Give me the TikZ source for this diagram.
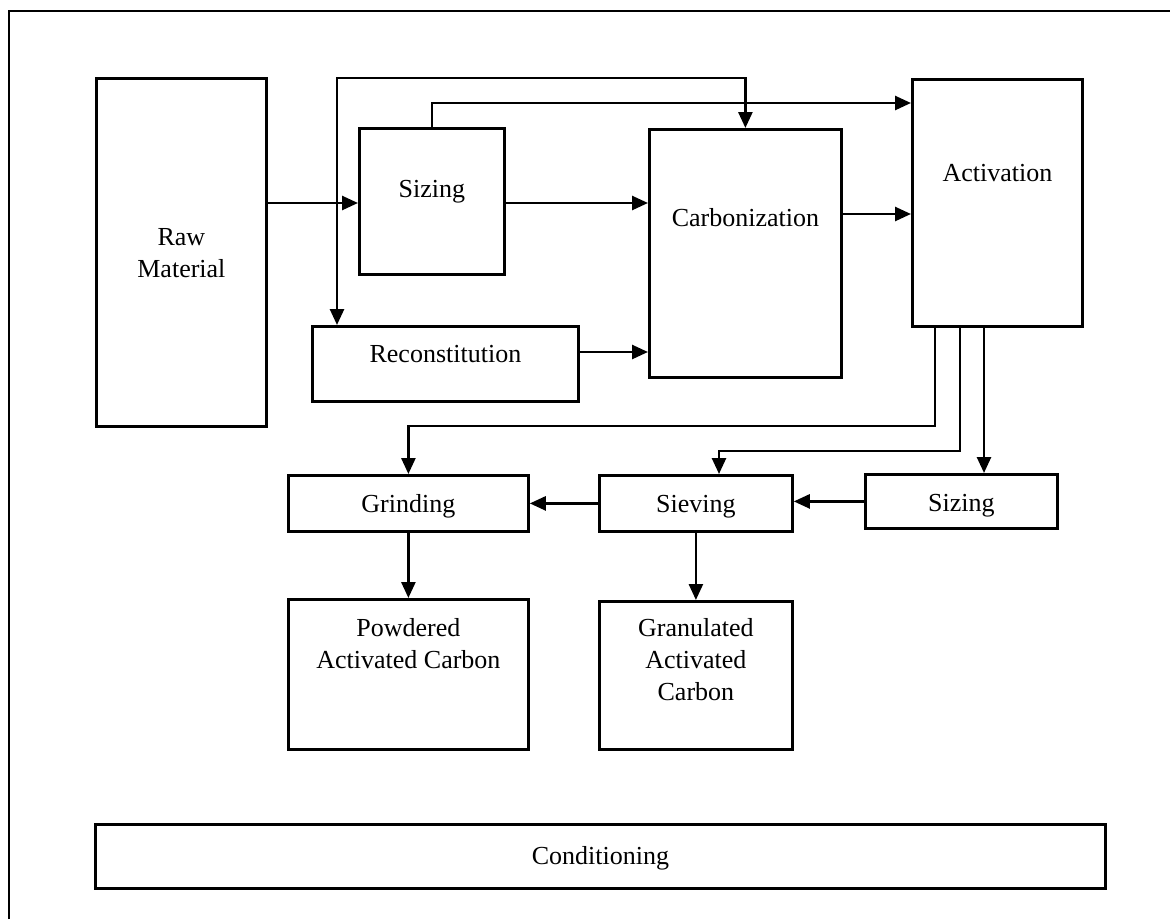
\documentclass[tikz,border=0pt]{standalone}
\usepackage{fontspec}
\setmainfont{Liberation Serif}
\usetikzlibrary{arrows.meta}
\begin{document}
\begin{tikzpicture}[x=1pt,y=-1pt,
  font=\fontsize{26}{32}\selectfont,
  >={Triangle[length=16pt,width=14pt]},
  box/.style={draw,line width=2.8pt,rectangle,inner sep=0pt,anchor=north west},
  conn/.style={line width=2.6pt,->},
  frame/.style={line width=1.6pt}]
\useasboundingbox (0,0) rectangle (1170,919);
% outer frame (top and left edges)
\draw[frame] (9,919) -- (9,11) -- (1170,11);
% boxes
\node[box,minimum width=170pt,text height=167.5pt,text depth=180.5pt] (raw) at (95,77)
  {\begin{tabular}[t]{@{}c@{}}Raw\\Material\end{tabular}};
\node[box,minimum width=145pt,text height=69.5pt,text depth=76.5pt] (siz1) at (358,127) {Sizing};
\node[box,minimum width=192pt,text height=97.5pt,text depth=150.5pt] (carb) at (648,128) {Carbonization};
\node[box,minimum width=170pt,text height=102.5pt,text depth=144.5pt] (act) at (911,78) {Activation};
\node[box,minimum width=266pt,text height=36.5pt,text depth=38.5pt] (recon) at (311,325) {Reconstitution};
\node[box,minimum width=240pt,text height=37.5pt,text depth=18.5pt] (grind) at (287,474) {Grinding};
\node[box,minimum width=193pt,text height=37.5pt,text depth=18.5pt] (siev) at (598,474) {Sieving};
\node[box,minimum width=192pt,text height=37.5pt,text depth=16.5pt] (siz2) at (864,473) {Sizing};
\node[box,minimum width=240pt,text height=37.5pt,text depth=112.5pt] (powd) at (287,598)
  {\begin{tabular}[t]{@{}c@{}}Powdered\\Activated Carbon\end{tabular}};
\node[box,minimum width=193pt,text height=35.5pt,text depth=112.5pt] (gran) at (598,600)
  {\begin{tabular}[t]{@{}c@{}}Granulated\\Activated\\Carbon\end{tabular}};
\node[box,minimum width=1010pt,text height=40.5pt,text depth=23.5pt] (cond) at (94,823) {Conditioning};
% helper coordinates
\coordinate (xa) at (337,0);
\coordinate (ytop) at (0,78);
\coordinate (yb) at (0,103);
\coordinate (y1) at (0,203);
\coordinate (y2) at (0,214);
\coordinate (y3) at (0,352);
\coordinate (xl1) at (935,0);
\coordinate (xl2) at (960,0);
\coordinate (xl3) at (984,0);
\coordinate (yl1) at (0,426);
\coordinate (yl2) at (0,451);
\coordinate (xs) at (719,0);
% connectors
\draw[conn,<->] (recon.north -| xa) -- (xa |- ytop) -| (carb.north);
\draw[conn] (siz1.north) |- (act.west |- yb);
\draw[conn] (raw.east |- y1) -- (siz1.west |- y1);
\draw[conn] (siz1.east |- y1) -- (carb.west |- y1);
\draw[conn] (carb.east |- y2) -- (act.west |- y2);
\draw[conn] (recon.east |- y3) -- (carb.west |- y3);
\draw[conn] (act.south -| xl1) |- (yl1 -| grind.north) -- (grind.north);
\draw[conn] (act.south -| xl2) |- (yl2 -| xs) -- (siev.north -| xs);
\draw[conn] (act.south -| xl3) -- (siz2.north -| xl3);
\draw[conn] (siz2.west) -- (siz2.west -| siev.east);
\draw[conn] (siev.west) -- (siev.west -| grind.east);
\draw[conn] (grind.south) -- (powd.north);
\draw[conn] (siev.south) -- (gran.north);
\end{tikzpicture}
\end{document}
